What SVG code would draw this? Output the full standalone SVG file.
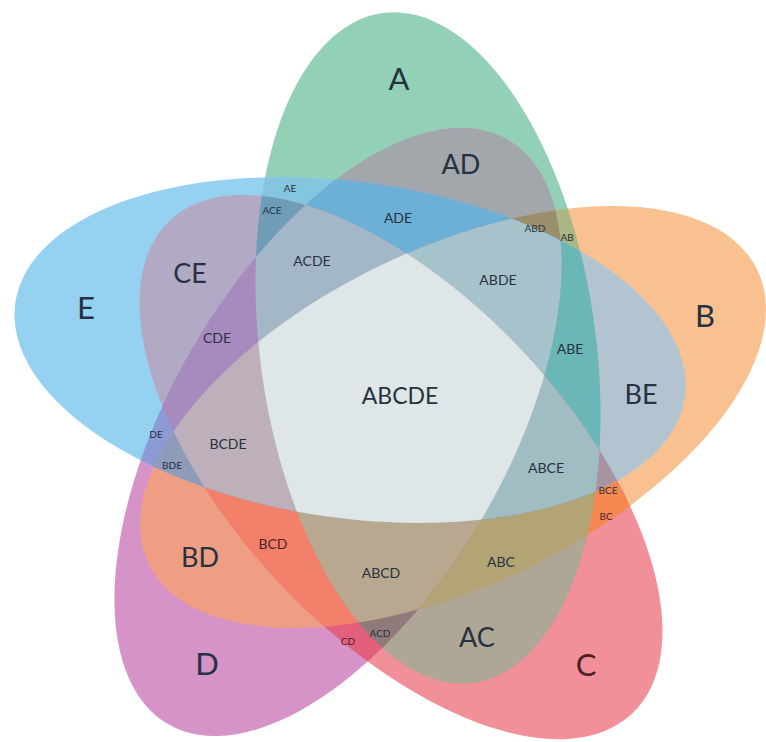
<svg xmlns="http://www.w3.org/2000/svg" xmlns:xlink="http://www.w3.org/1999/xlink" width="766" height="742" viewBox="0 0 766 742">
<style>
text{font-family:Lato,"Open Sans","Liberation Sans",sans-serif;fill:#263241;text-anchor:middle;dominant-baseline:central}
.big{font-size:31px}
.mid{font-size:27px}
.ctr{font-size:23px}
.sm{font-size:14px}
.xs{font-size:10px}
.warm{fill:#4a2228}
</style>
<defs>
<ellipse id="eA" cx="428" cy="348" rx="338" ry="168" transform="rotate(82.3 428 348)"/>
<ellipse id="eB" cx="453" cy="417" rx="338" ry="168" transform="rotate(-25.8 453 417)"/>
<ellipse id="eC" cx="401" cy="467" rx="338" ry="168" transform="rotate(46.9 401 467)"/>
<ellipse id="eD" cx="338" cy="432" rx="338" ry="168" transform="rotate(120.2 338 432)"/>
<ellipse id="eE" cx="350" cy="350" rx="338" ry="168" transform="rotate(8 350 350)"/>
<clipPath id="cA"><use xlink:href="#eA"/></clipPath>
<clipPath id="cB"><use xlink:href="#eB"/></clipPath>
<clipPath id="cC"><use xlink:href="#eC"/></clipPath>
<clipPath id="cD"><use xlink:href="#eD"/></clipPath>
<clipPath id="cE"><use xlink:href="#eE"/></clipPath>
</defs>
<rect width="766" height="742" fill="#ffffff"/>
<g id="set-A"><use xlink:href="#eA" fill="#92d1b5"/></g>
<g id="set-B"><use xlink:href="#eB" fill="#f9c190"/></g>
<g id="set-C"><use xlink:href="#eC" fill="#f2909a"/></g>
<g id="set-D"><use xlink:href="#eD" fill="#d593c7"/></g>
<g id="set-E"><use xlink:href="#eE" fill="#95d2f1"/></g>
<g id="regions">
<g clip-path="url(#cA)"><use xlink:href="#eB" fill="#a9b784"/></g>
<g clip-path="url(#cA)"><use xlink:href="#eC" fill="#aea795"/></g>
<g clip-path="url(#cA)"><use xlink:href="#eD" fill="#a2a7ab"/></g>
<g clip-path="url(#cA)"><use xlink:href="#eE" fill="#84c6df"/></g>
<g clip-path="url(#cB)"><use xlink:href="#eC" fill="#f6874f"/></g>
<g clip-path="url(#cB)"><use xlink:href="#eD" fill="#ef9e84"/></g>
<g clip-path="url(#cB)"><use xlink:href="#eE" fill="#b2c4d0"/></g>
<g clip-path="url(#cC)"><use xlink:href="#eD" fill="#e3607c"/></g>
<g clip-path="url(#cC)"><use xlink:href="#eE" fill="#b2aac5"/></g>
<g clip-path="url(#cD)"><use xlink:href="#eE" fill="#8c9ad6"/></g>
<g clip-path="url(#cA)"><g clip-path="url(#cB)"><use xlink:href="#eC" fill="#b3a476"/></g></g>
<g clip-path="url(#cA)"><g clip-path="url(#cB)"><use xlink:href="#eD" fill="#9a8e6b"/></g></g>
<g clip-path="url(#cA)"><g clip-path="url(#cB)"><use xlink:href="#eE" fill="#6bb6b6"/></g></g>
<g clip-path="url(#cA)"><g clip-path="url(#cC)"><use xlink:href="#eD" fill="#8f7b7c"/></g></g>
<g clip-path="url(#cA)"><g clip-path="url(#cC)"><use xlink:href="#eE" fill="#6f9db8"/></g></g>
<g clip-path="url(#cA)"><g clip-path="url(#cD)"><use xlink:href="#eE" fill="#6cafd7"/></g></g>
<g clip-path="url(#cB)"><g clip-path="url(#cC)"><use xlink:href="#eD" fill="#f3806a"/></g></g>
<g clip-path="url(#cB)"><g clip-path="url(#cC)"><use xlink:href="#eE" fill="#a893a0"/></g></g>
<g clip-path="url(#cB)"><g clip-path="url(#cD)"><use xlink:href="#eE" fill="#8e9cba"/></g></g>
<g clip-path="url(#cC)"><g clip-path="url(#cD)"><use xlink:href="#eE" fill="#a78bbe"/></g></g>
<g clip-path="url(#cA)"><g clip-path="url(#cB)"><g clip-path="url(#cC)"><use xlink:href="#eD" fill="#b8a88f"/></g></g></g>
<g clip-path="url(#cA)"><g clip-path="url(#cB)"><g clip-path="url(#cC)"><use xlink:href="#eE" fill="#a0bdc4"/></g></g></g>
<g clip-path="url(#cA)"><g clip-path="url(#cB)"><g clip-path="url(#cD)"><use xlink:href="#eE" fill="#a6c3cc"/></g></g></g>
<g clip-path="url(#cA)"><g clip-path="url(#cC)"><g clip-path="url(#cD)"><use xlink:href="#eE" fill="#a3b7c9"/></g></g></g>
<g clip-path="url(#cB)"><g clip-path="url(#cC)"><g clip-path="url(#cD)"><use xlink:href="#eE" fill="#bdb0ba"/></g></g></g>
<g clip-path="url(#cA)"><g clip-path="url(#cB)"><g clip-path="url(#cC)"><g clip-path="url(#cD)"><use xlink:href="#eE" fill="#dfe6e8"/></g></g></g></g>
</g>
<g id="labels">
<text class="big" x="399" y="78">A</text>
<text class="big" x="705" y="315">B</text>
<text class="big warm" x="586" y="664">C</text>
<text class="big" x="207" y="663">D</text>
<text class="big" x="86" y="307">E</text>
<text class="mid" x="461" y="163">AD</text>
<text class="mid" x="190" y="272">CE</text>
<text class="mid" x="641" y="393">BE</text>
<text class="mid" x="200" y="556">BD</text>
<text class="mid" x="477" y="636">AC</text>
<text class="ctr" x="400" y="395">ABCDE</text>
<text class="sm" x="398" y="217">ADE</text>
<text class="sm" x="312" y="260">ACDE</text>
<text class="sm" x="498" y="279">ABDE</text>
<text class="sm" x="217" y="337">CDE</text>
<text class="sm" x="570" y="348">ABE</text>
<text class="sm" x="228" y="443">BCDE</text>
<text class="sm" x="546" y="467">ABCE</text>
<text class="sm warm" x="273" y="543">BCD</text>
<text class="sm" x="381" y="572">ABCD</text>
<text class="sm" x="501" y="561">ABC</text>
<text class="xs" x="290" y="188">AE</text>
<text class="xs" x="272" y="210">ACE</text>
<text class="xs" x="535" y="228">ABD</text>
<text class="xs" x="567" y="237">AB</text>
<text class="xs" x="156" y="434">DE</text>
<text class="xs" x="172" y="465">BDE</text>
<text class="xs" x="608" y="490">BCE</text>
<text class="xs warm" x="606" y="516">BC</text>
<text class="xs warm" x="348" y="641">CD</text>
<text class="xs" x="380" y="633">ACD</text>
</g>
</svg>
